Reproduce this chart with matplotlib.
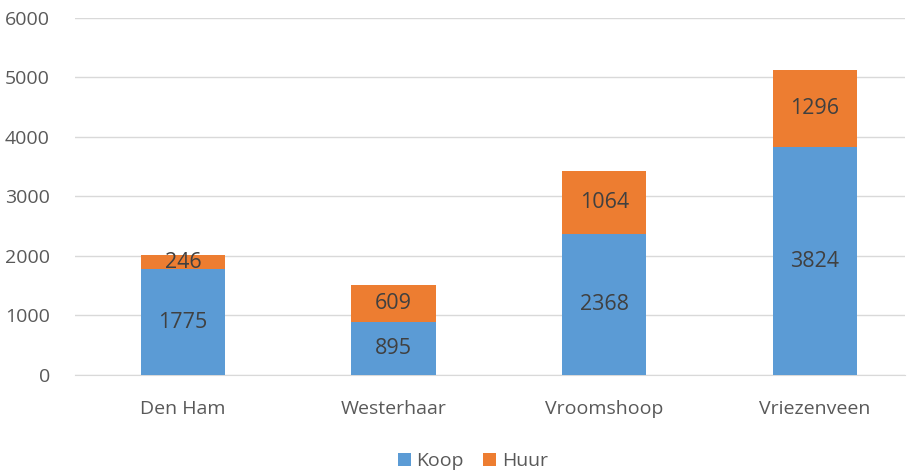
import matplotlib.pyplot as plt
import numpy as np

plt.rcParams['font.family'] = ['Open Sans', 'DejaVu Sans']

# Data
places = ['Den Ham', 'Westerhaar', 'Vroomshoop', 'Vriezenveen']
koop = [1775, 895, 2368, 3824]
huur = [246, 609, 1064, 1296]

blue = '#5B9BD5'
orange = '#ED7D31'
text_col = '#404040'
tick_col = '#595959'

fig = plt.figure(figsize=(9.13, 4.72), dpi=100)
ax = fig.add_axes([0.082, 0.2055, 0.909, 0.7565])

x = np.arange(len(places))
w = 0.40

b1 = ax.bar(x, koop, w, color=blue, label='Koop', zorder=3)
b2 = ax.bar(x, huur, w, bottom=koop, color=orange, label='Huur', zorder=3)

ax.bar_label(b1, labels=[str(v) for v in koop], label_type='center',
             fontsize=15.5, color=text_col)
ax.bar_label(b2, labels=[str(v) for v in huur], label_type='center',
             fontsize=15.5, color=text_col)

ax.set_ylim(0, 6000)
ax.set_xlim(-0.513, 3.427)
ax.set_yticks(range(0, 6001, 1000))
ax.set_xticks(x)
ax.set_xticklabels(places)

ax.grid(axis='y', color='#D9D9D9', linewidth=1, zorder=0)
for s in ['top', 'right', 'left']:
    ax.spines[s].set_visible(False)
ax.spines['bottom'].set_color('#D9D9D9')
ax.tick_params(axis='both', length=0, labelsize=14, colors=tick_col)
ax.tick_params(axis='x', pad=18)
ax.tick_params(axis='y', pad=18)

fig.legend(loc='lower center', bbox_to_anchor=(0.518, -0.033), ncol=2, frameon=False,
           fontsize=14, handlelength=0.65, handleheight=0.65, columnspacing=1.0,
           handletextpad=0.3, labelcolor=tick_col)

fig.savefig('out.png', dpi=100)
